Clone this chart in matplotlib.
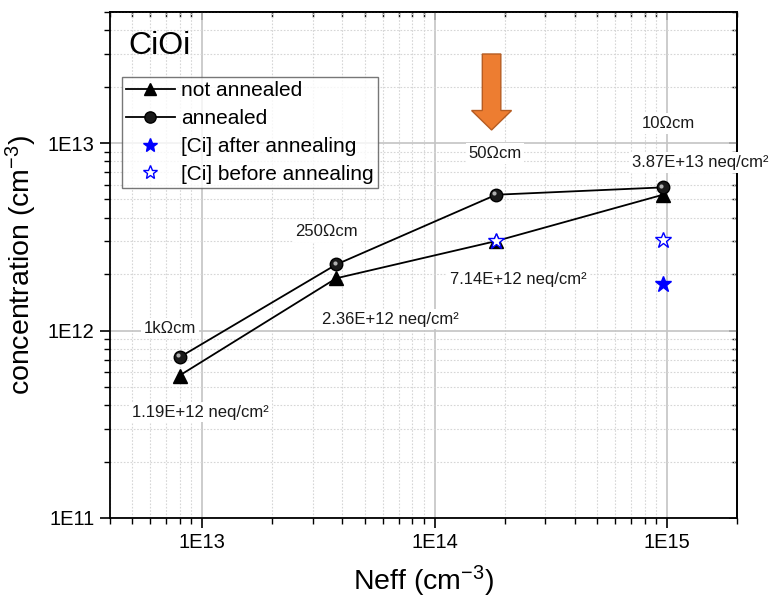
import matplotlib
matplotlib.use("Agg")
import matplotlib.pyplot as plt
from matplotlib.ticker import FuncFormatter, NullFormatter, LogLocator
from matplotlib.patches import FancyArrow
from matplotlib.transforms import offset_copy
import numpy as np

plt.rcParams['font.family'] = ['Liberation Sans', 'DejaVu Sans']
plt.rcParams['mathtext.default'] = 'regular'

# data (log-log)
neff = [8.0e12, 3.78e13, 1.84e14, 9.6e14]
not_annealed = [5.75e11, 1.9e12, 3.0e12, 5.3e12]
annealed = [7.2e11, 2.25e12, 5.3e12, 5.8e12]
ci_after_x = [9.6e14]
ci_after = [1.76e12]
ci_before_x = [1.84e14, 9.6e14]
ci_before = [3.0e12, 3.03e12]

# resistivity / fluence labels: (text, x, y, horizontal alignment)
labels = [
    ("1k\u03a9cm", 7.3e12, 1.03e12, "center"),
    ("1.19E+12 neq/cm\u00b2", 9.86e12, 3.67e11, "center"),
    ("250\u03a9cm", 3.44e13, 3.37e12, "center"),
    ("2.36E+12 neq/cm\u00b2", 6.43e13, 1.15e12, "center"),
    ("50\u03a9cm", 1.82e14, 8.8e12, "center"),
    ("7.14E+12 neq/cm\u00b2", 2.29e14, 1.88e12, "center"),
    ("10\u03a9cm", 1.01e15, 1.27e13, "center"),
    ("3.87E+13 neq/cm\u00b2", 7.1e14, 7.9e12, "left"),
]

fig = plt.figure(figsize=(7.73, 6.0), dpi=100)
ax = fig.add_axes([0.1417, 0.1367, 0.8118, 0.8433])
ax.set_xscale("log")
ax.set_yscale("log")
ax.set_xlim(4e12, 2e15)
ax.set_ylim(1e11, 5e13)

# grid: solid major, dotted minor
ax.grid(True, which="major", color="#c4c4c4", lw=1.2, ls="-", zorder=0)
ax.grid(True, which="minor", color="#d6d6d6", lw=0.8, ls=(0, (1.5, 1.5)), zorder=0)
ax.set_axisbelow(True)

ax.plot(neff, not_annealed, "-^", color="black", ms=10, lw=1.3,
        label="not annealed", zorder=4)
ax.plot(neff, annealed, "-o", color="black", mfc="#1a1a1a", ms=9, lw=1.3,
        label="annealed", zorder=4)
# sphere highlight
hl = offset_copy(ax.transData, fig=fig, x=-1.3, y=1.3, units="points")
ax.plot(neff, annealed, "o", color="#b0b0b0", ms=3, mew=0, transform=hl, zorder=5)
ax.plot(ci_after_x, ci_after, "*", color="blue", ms=12, ls="none",
        label="[Ci] after annealing", zorder=6)
ax.plot(ci_before_x, ci_before, "*", mfc="white", mec="blue", mew=1.0, ms=12,
        ls="none", label="[Ci] before annealing", zorder=6)

for txt, x, y, ha in labels:
    ax.text(x, y, txt, fontsize=12, ha=ha, va="center", color="#1a1a1a",
            bbox=dict(facecolor="white", edgecolor="none", pad=2),
            zorder=7, clip_on=False)

ax.text(0.03, 0.933, "CiOi", transform=ax.transAxes, fontsize=23,
        ha="left", va="center", zorder=7)

# orange arrow pointing at the 50 Ohm cm sample
arrow = FancyArrow(0.6088, 0.917, 0, 0.7668 - 0.917, width=0.0295,
                   head_width=0.0637, head_length=0.0385,
                   length_includes_head=True, transform=ax.transAxes,
                   facecolor="#ED7D31", edgecolor="#B65C22", lw=1.0, zorder=8)
ax.add_patch(arrow)

leg = ax.legend(loc="upper left", bbox_to_anchor=(0.0194, 0.871), fontsize=15,
                frameon=True, fancybox=False, edgecolor="#555555",
                handlelength=2.35, handletextpad=0.3, borderpad=0.2,
                labelspacing=0.42, borderaxespad=0, markerscale=0.9)
leg.get_frame().set_linewidth(1.0)
leg.set_zorder(9)

fmt = FuncFormatter(lambda v, _: "1E%d" % int(round(np.log10(v))))
ax.xaxis.set_major_formatter(fmt)
ax.yaxis.set_major_formatter(fmt)
ax.xaxis.set_minor_formatter(NullFormatter())
ax.yaxis.set_minor_formatter(NullFormatter())
ax.xaxis.set_major_locator(LogLocator(base=10))
ax.yaxis.set_major_locator(LogLocator(base=10))

ax.tick_params(which="major", direction="out", length=7.5, width=1.2,
               labelsize=14.5, pad=3.5, colors="black")
ax.tick_params(which="minor", direction="out", length=4, width=1.0)
for sp in ax.spines.values():
    sp.set_linewidth(1.3)

# mirrored ticks on top and right point inward
top = ax.secondary_xaxis("top")
top.tick_params(which="major", direction="in", length=6, width=1.2, labeltop=False)
top.tick_params(which="minor", direction="in", length=3.5, width=1.0)
top.xaxis.set_major_formatter(NullFormatter())
top.xaxis.set_minor_formatter(NullFormatter())
right = ax.secondary_yaxis("right")
right.tick_params(which="major", direction="in", length=6, width=1.2, labelright=False)
right.tick_params(which="minor", direction="in", length=3.5, width=1.0)
right.yaxis.set_major_formatter(NullFormatter())
right.yaxis.set_minor_formatter(NullFormatter())
for s in (top, right):
    for sp in s.spines.values():
        sp.set_linewidth(1.3)

ax.set_xlabel("Neff (cm$^{-3}$)", fontsize=20.5, labelpad=8)
ax.set_ylabel("concentration (cm$^{-3}$)", fontsize=20.5, labelpad=6)

fig.savefig("out.png", dpi=100)
